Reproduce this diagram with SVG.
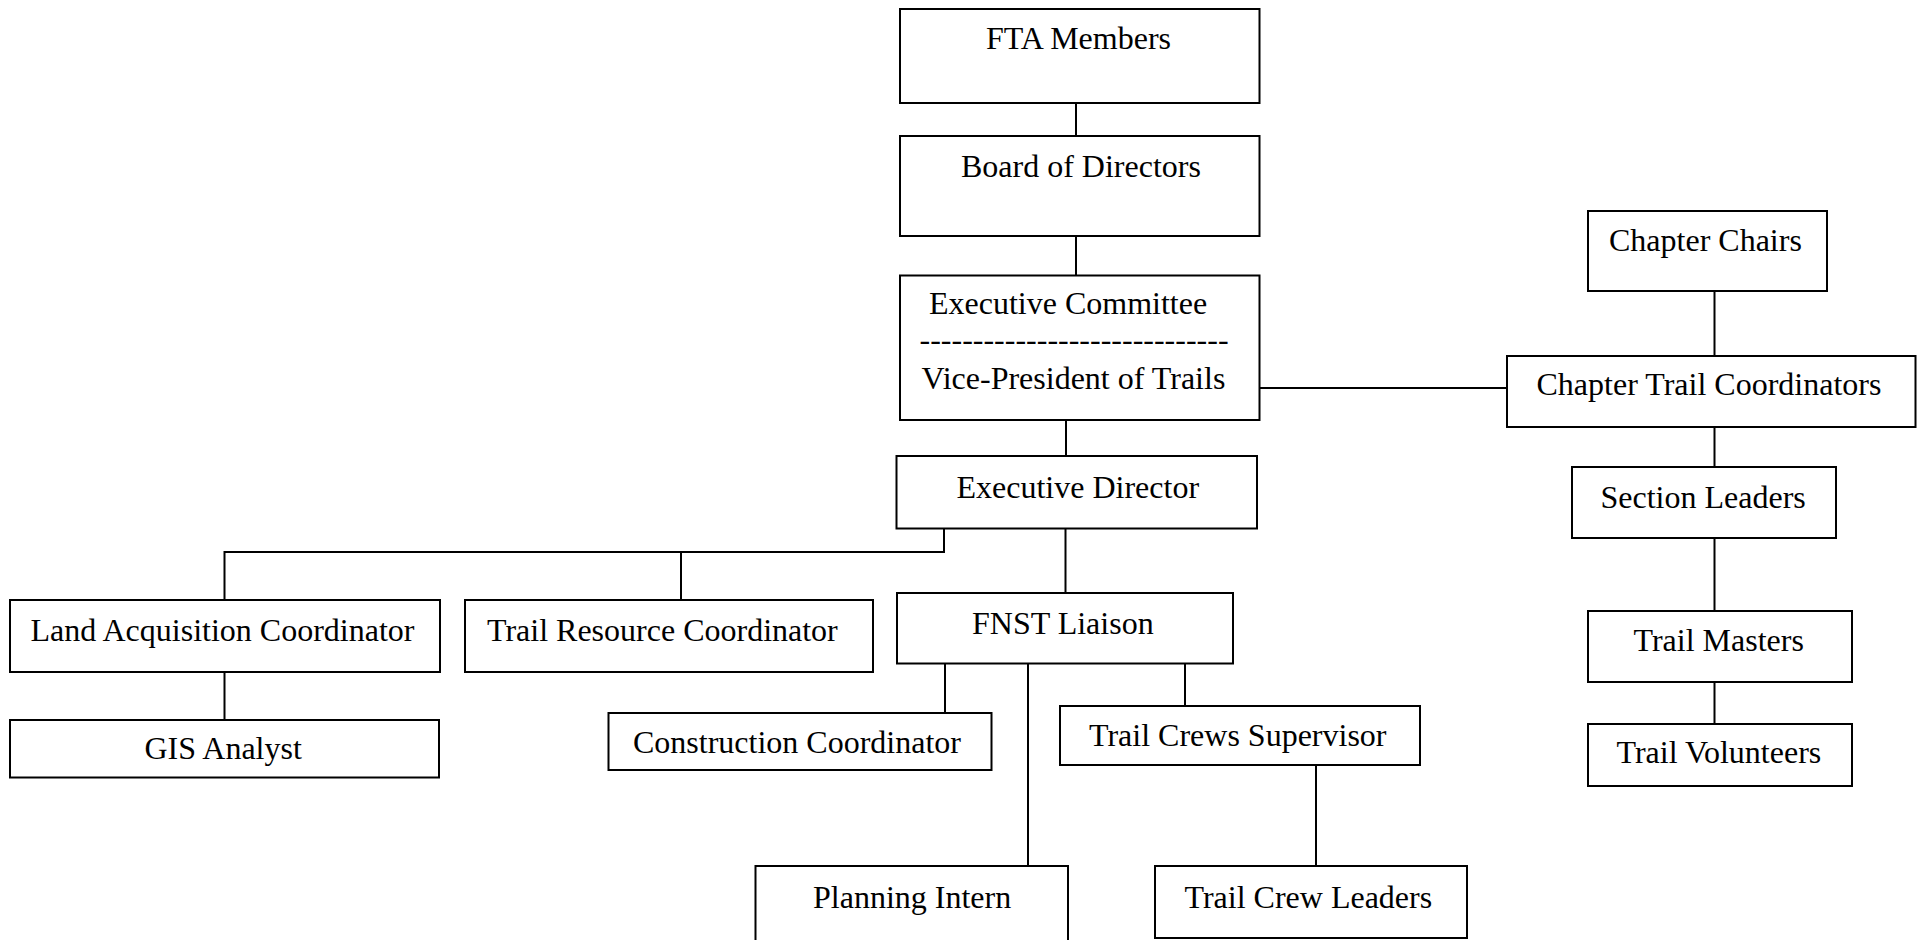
<svg xmlns="http://www.w3.org/2000/svg" width="1923" height="940" viewBox="0 0 1923 940">
<style>
rect{fill:#fff;stroke:#000;stroke-width:2}
text{font-family:"Liberation Serif","Times New Roman",serif;font-size:32px;fill:#000}
#connectors path{fill:none;stroke:#000;stroke-width:2}
</style>
<rect x="0" y="0" width="1923" height="940" style="stroke:none"/>
<g id="connectors">
<path d="M1076 103V136"/>
<path d="M1076 236V275"/>
<path d="M1066 420V456"/>
<path d="M1260 388H1507"/>
<path d="M1714.5 291V356"/>
<path d="M1714.5 427V467"/>
<path d="M1714.5 538V611"/>
<path d="M1714.5 682V724"/>
<path d="M944 529V552H224.5V600"/>
<path d="M681 552V600"/>
<path d="M1065.5 529V593"/>
<path d="M224.5 672V720"/>
<path d="M945 664V713"/>
<path d="M1028 664V866"/>
<path d="M1185 664V706"/>
<path d="M1316 765V866"/>
</g>
<g id="fta"><rect x="900" y="9" width="359.5" height="94"/><text x="986" y="49">FTA Members</text></g>
<g id="board"><rect x="900" y="136" width="359.5" height="100"/><text x="961" y="177">Board of Directors</text></g>
<g id="exec-committee"><rect x="900" y="275.5" width="359.5" height="144.5"/><text x="929" y="314">Executive Committee</text><text x="919.5" y="350">-----------------------------</text><text x="921.5" y="389">Vice-President of Trails</text></g>
<g id="exec-director"><rect x="896.5" y="456" width="360.5" height="72.5"/><text x="956.5" y="498">Executive Director</text></g>
<g id="chapter-chairs"><rect x="1588" y="211" width="239" height="80"/><text x="1609" y="251">Chapter Chairs</text></g>
<g id="chapter-trail-coordinators"><rect x="1507" y="356" width="408.5" height="71"/><text x="1536.5" y="395">Chapter Trail Coordinators</text></g>
<g id="section-leaders"><rect x="1572" y="467" width="264" height="71"/><text x="1600.5" y="507.5">Section Leaders</text></g>
<g id="trail-masters"><rect x="1588" y="611" width="264" height="71"/><text x="1633.5" y="651">Trail Masters</text></g>
<g id="trail-volunteers"><rect x="1588" y="724" width="264" height="62"/><text x="1616.5" y="763">Trail Volunteers</text></g>
<g id="land-acquisition"><rect x="10" y="600" width="430" height="72"/><text x="30.5" y="641">Land Acquisition Coordinator</text></g>
<g id="trail-resource"><rect x="465" y="600" width="408" height="72"/><text x="487" y="641">Trail Resource Coordinator</text></g>
<g id="fnst-liaison"><rect x="897" y="593" width="336" height="70.5"/><text x="972" y="633.5">FNST Liaison</text></g>
<g id="gis-analyst"><rect x="10" y="720" width="429" height="57.5"/><text x="144.5" y="759">GIS Analyst</text></g>
<g id="construction"><rect x="608.5" y="713" width="383" height="57"/><text x="633" y="753">Construction Coordinator</text></g>
<g id="trail-crews-supervisor"><rect x="1060" y="706" width="360" height="59"/><text x="1089" y="745.5">Trail Crews Supervisor</text></g>
<g id="planning-intern"><rect x="755.5" y="866" width="312.5" height="90"/><text x="813" y="907.5">Planning Intern</text></g>
<g id="trail-crew-leaders"><rect x="1155" y="866" width="312" height="72"/><text x="1184.5" y="907.5">Trail Crew Leaders</text></g>
</svg>
